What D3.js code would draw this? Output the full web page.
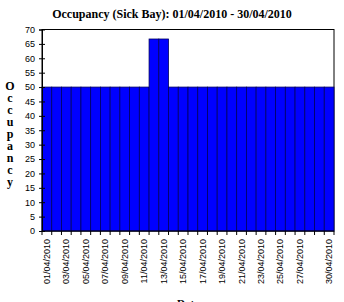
<!DOCTYPE html>
<html>
<head>
<meta charset="utf-8">
<script src="https://cdn.jsdelivr.net/npm/d3@7"></script>
<style>
  body { margin: 0; background: #fff; }
  svg { display: block; }
</style>
</head>
<body>
<script>
// days of April 2010 and the sick bay occupancy for each
var days = ["01/04/2010","02/04/2010","03/04/2010","04/04/2010","05/04/2010","06/04/2010",
            "07/04/2010","08/04/2010","09/04/2010","10/04/2010","11/04/2010","12/04/2010",
            "13/04/2010","14/04/2010","15/04/2010","16/04/2010","17/04/2010","18/04/2010",
            "19/04/2010","20/04/2010","21/04/2010","22/04/2010","23/04/2010","24/04/2010",
            "25/04/2010","26/04/2010","27/04/2010","28/04/2010","29/04/2010","30/04/2010"];
var occupancy = [50,50,50,50,50,50,50,50,50,50,50,66.7,66.7,50,50,50,50,50,50,50,50,50,50,50,50,50,50,50,50,50];
var shownLabels = ["01/04/2010","03/04/2010","05/04/2010","07/04/2010","09/04/2010","11/04/2010",
                   "13/04/2010","15/04/2010","17/04/2010","19/04/2010","21/04/2010","23/04/2010",
                   "25/04/2010","27/04/2010","30/04/2010"];
var yTicks = [0,5,10,15,20,25,30,35,40,45,50,55,60,65,70];

var W = 344, H = 302;
var plotL = 42, plotR = 334, plotT = 29.5, plotB = 231; // "top" is taken by window.top

var svg = d3.select("body").append("svg").attr("width", W).attr("height", H);

var x = d3.scaleBand().domain(days).range([plotL, plotR]).padding(0);
var y = d3.scaleLinear().domain([0, 70]).range([plotB, plotT]);

// title
svg.append("text")
    .attr("x", 172).attr("y", 18)
    .attr("text-anchor", "middle")
    .attr("font-family", "Liberation Serif, Times New Roman, serif")
    .attr("font-weight", "bold").attr("font-size", "12px")
    .text("Occupancy (Sick Bay): 01/04/2010 - 30/04/2010");

// plot frame (top and right)
svg.append("rect")
    .attr("x", plotL).attr("y", plotT)
    .attr("width", plotR - plotL).attr("height", plotB - plotT)
    .attr("fill", "none").attr("stroke", "#000").attr("stroke-width", 1);

// bars
svg.selectAll("rect.bar")
    .data(occupancy)
    .enter().append("rect")
      .attr("class", "bar")
      .attr("x", function(d, i){ return x(days[i]); })
      .attr("y", function(d){ return y(d); })
      .attr("width", x.bandwidth())
      .attr("height", function(d){ return plotB - y(d); })
      .attr("fill", "#0000ff")
      .attr("stroke", "#000060")
      .attr("stroke-width", 0.8);

// y axis, ticks crossing the line
var yAxis = d3.axisLeft(y).tickValues(yTicks).tickSize(3).tickPadding(4);
var gy = svg.append("g").attr("transform", "translate(" + plotL + ",0)").call(yAxis);
gy.select(".domain").attr("stroke", "#000");
gy.selectAll(".tick line").attr("x2", 3).attr("x1", -3);
gy.selectAll("text")
    .attr("font-family", "Liberation Sans, Arial, sans-serif")
    .attr("font-size", "9px").attr("fill", "#000");

// x axis: tick marks on category boundaries
var gx = svg.append("g").attr("transform", "translate(0," + plotB + ")");
gx.append("line").attr("x1", plotL).attr("x2", plotR).attr("stroke", "#000");
var bounds = days.map(function(d){ return x(d); }).concat([plotR]);
gx.selectAll("line.tk")
    .data(bounds)
    .enter().append("line")
      .attr("class", "tk")
      .attr("x1", function(d){ return d; }).attr("x2", function(d){ return d; })
      .attr("y1", 0).attr("y2", 4)
      .attr("stroke", "#000");

gx.selectAll("text")
    .data(shownLabels)
    .enter().append("text")
      .attr("transform", function(d){
          return "translate(" + (x(d) + x.bandwidth() / 2 + 3) + ",8) rotate(-90)";
      })
      .attr("text-anchor", "end")
      .attr("font-family", "Liberation Sans, Arial, sans-serif")
      .attr("font-size", "9px")
      .text(function(d){ return d; });

// y axis title, stacked letters
var yTitle = "Occupancy".split("");
svg.append("g").selectAll("text")
    .data(yTitle)
    .enter().append("text")
      .attr("x", 10)
      .attr("y", function(d, i){ return 90 + i * 12; })
      .attr("text-anchor", "middle")
      .attr("font-family", "Liberation Serif, Times New Roman, serif")
      .attr("font-weight", "bold").attr("font-size", "12px")
      .text(function(d){ return d; });

// x axis title (mostly cut by the bottom edge)
svg.append("text")
    .attr("x", 188).attr("y", 307)
    .attr("text-anchor", "middle")
    .attr("font-family", "Liberation Serif, Times New Roman, serif")
    .attr("font-weight", "bold").attr("font-size", "11px")
    .text("Date");
</script>
</body>
</html>
